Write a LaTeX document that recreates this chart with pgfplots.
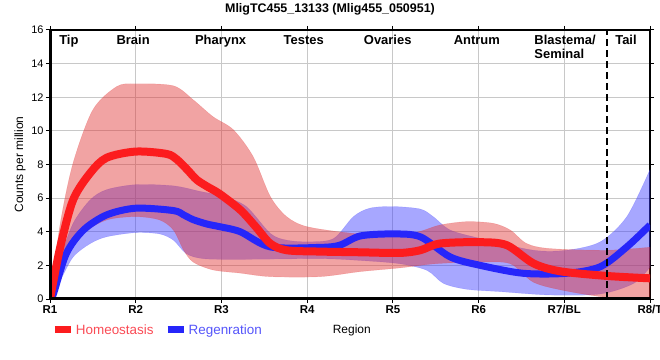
\documentclass[border=0pt]{standalone}
\usepackage{pgfplots}
\pgfplotsset{compat=1.18}
\usepgfplotslibrary{fillbetween}
\usepackage{fontspec}
\setmainfont{Liberation Sans}
\definecolor{hline}{RGB}{252,28,30}
\definecolor{rline}{RGB}{38,38,250}
\definecolor{hband}{RGB}{225,50,50}
\definecolor{rband}{RGB}{60,60,255}
\definecolor{htext}{RGB}{250,75,85}
\definecolor{rtext}{RGB}{85,85,250}
\definecolor{gridc}{RGB}{200,200,200}

\pgfplotstableread{
x y
1 0
1.12 3.1
1.27 5.9
1.47 7.5
1.66 8.4
2 8.77
2.36 8.63
2.48 8.3
2.6 7.7
2.71 7.1
2.83 6.7
2.98 6.25
3.22 5.3
3.4 4.3
3.57 3.3
3.76 2.9
4.15 2.82
4.6 2.78
5.08 2.74
5.32 2.9
5.55 3.3
6.02 3.38
6.33 3.2
6.64 2.12
6.95 1.65
7.5 1.37
8 1.23
}\hmean

\pgfplotstableread{
x y
1 0
1.12 4.5
1.27 8.1
1.5 11.25
1.78 12.64
2 12.8
2.44 12.68
2.67 11.85
2.9 10.85
3.14 10.06
3.37 8.47
3.57 6.1
3.76 4.9
4 4.3
4.54 3.9
5 3.8
5.3 4.0
5.55 4.4
5.86 4.6
6.17 4.5
6.37 4.1
6.56 3.3
6.83 3.0
7.5 2.9
8 3.08
}\hupper

\pgfplotstableread{
x y
1 0
1.2 2.5
1.39 3.9
1.66 4.7
2 4.9
2.28 4.7
2.44 4.1
2.56 2.9
2.67 2.2
2.9 1.73
3.22 1.54
3.57 1.33
4.15 1.33
4.62 1.63
5.08 1.85
5.5 2.1
6 2.2
6.37 2.1
6.64 1.0
7 0.5
7.5 0.1
8 0.05
}\hlower

\pgfplotstableread{
x y
1 0
1.04 0.3
1.19 2.7
1.39 4.1
1.66 5.0
2 5.4
2.44 5.26
2.56 5.0
2.67 4.72
2.83 4.46
2.98 4.3
3.22 4.0
3.57 3.1
4.15 3.07
4.38 3.2
4.62 3.75
5.0 3.87
5.32 3.7
5.67 2.5
6.02 2.0
6.52 1.53
7.03 1.53
7.42 1.92
7.73 3.1
8 4.4
}\rmean

\pgfplotstableread{
x y
1 0
1.12 2.4
1.27 4.5
1.47 5.9
1.66 6.5
2 6.8
2.44 6.73
2.75 6.4
3.02 6.1
3.29 5.5
3.57 3.9
3.76 3.5
4.03 3.4
4.31 3.6
4.54 4.9
4.73 5.4
5.0 5.5
5.32 5.35
5.47 4.9
5.67 4.1
6.02 3.6
6.64 2.9
7.03 2.9
7.42 3.4
7.73 4.9
8 7.7
}\rupper

\pgfplotstableread{
x y
1 0
1.12 1.1
1.27 2.5
1.47 3.3
1.66 3.7
2 3.95
2.28 3.87
2.44 3.5
2.59 2.7
2.79 2.4
3.22 2.36
4.15 2.4
4.6 2.3
5.08 2.1
5.4 1.7
5.59 0.93
5.86 0.58
6.25 0.44
6.83 0.24
7.42 0.3
7.81 0.93
8 1.9
}\rlower

\begin{document}
\begin{tikzpicture}
\begin{axis}[
  at={(0,0)}, anchor=south west,
  scale only axis, width=600bp, height=269bp,
  xmin=1, xmax=8, ymin=0, ymax=16,
  xtick={1,2,3,4,5,6,7,8},
  xticklabels={R1,R2,R3,R4,R5,R6,R7/BL,R8/T},
  ytick={0,2,4,6,8,10,12,14,16},
  /pgf/number format/assume math mode=true,
  tick align=outside,
  major tick length=4bp,
  tick style={black, line width=1bp},
  grid=major,
  grid style={gridc, line width=1bp},
  axis line style={black, line width=1.3bp},
  xticklabel style={font=\fontsize{11.5}{13}\selectfont\bfseries, yshift=1bp},
  yticklabel style={font=\fontsize{11}{13}\selectfont, xshift=1bp},
  xlabel={Region},
  xlabel style={at={(axis description cs:0.503,-0.115)}, anchor=center, font=\fontsize{12}{14}\selectfont},
  ylabel={Counts per million},
  ylabel style={at={(axis description cs:-0.05,0.5)}, anchor=center, font=\fontsize{12}{14}\selectfont},
  legend style={at={(axis description cs:-0.003,-0.115)}, anchor=west, draw=none, fill=none,
    legend columns=2, font=\fontsize{13.5}{15}\selectfont,
    /tikz/every even column/.append style={column sep=9bp},
    nodes={inner sep=1.5bp}},
  legend image code/.code={\draw[#1] (0bp,0bp) -- (16bp,0bp);},
]
% Regeneration band and line
\addplot[draw=none, smooth, name path=ru, forget plot] table[x=x,y=y] {\rupper};
\addplot[draw=none, smooth, name path=rl, forget plot] table[x=x,y=y] {\rlower};
\addplot[fill=rband, fill opacity=0.45, draw=rband, draw opacity=0.25, forget plot] fill between[of=ru and rl];
\addplot[rline, line width=7bp, smooth, forget plot] table[x=x,y=y] {\rmean};
% Homeostasis band and line
\addplot[draw=none, smooth, name path=hu, forget plot] table[x=x,y=y] {\hupper};
\addplot[draw=none, smooth, name path=hl, forget plot] table[x=x,y=y] {\hlower};
\addplot[fill=hband, fill opacity=0.45, draw=hband, draw opacity=0.25, forget plot] fill between[of=hu and hl];
\addplot[hline, line width=8bp, smooth, forget plot] table[x=x,y=y] {\hmean};
% dashed separator
\addplot[black, line width=2.5bp, dash pattern=on 7bp off 4bp, forget plot] coordinates {(7.5,0) (7.5,16)};
% thick left/bottom axes
\draw[black, line width=3bp] (rel axis cs:0,0) -- (rel axis cs:0,1);
\draw[black, line width=3bp] (rel axis cs:0,0) -- (rel axis cs:1,0);
% region labels
\begin{scope}[every node/.style={font=\fontsize{13}{15}\selectfont\bfseries, anchor=base, inner sep=0pt}]
\node at (axis cs:1.22,15.15) {Tip};
\node at (axis cs:1.97,15.15) {Brain};
\node at (axis cs:2.99,15.15) {Pharynx};
\node at (axis cs:3.96,15.15) {Testes};
\node at (axis cs:4.94,15.15) {Ovaries};
\node at (axis cs:5.98,15.15) {Antrum};
\node[anchor=base west] at (axis cs:6.65,15.15) {Blastema/};
\node[anchor=base west] at (axis cs:6.65,14.3) {Seminal};
\node at (axis cs:7.72,15.15) {Tail};
\end{scope}
\addlegendimage{hline, line width=7bp}
\addlegendentry{\textcolor{htext}{Homeostasis}}
\addlegendimage{rline, line width=7bp}
\addlegendentry{\textcolor{rtext}{Regenration}}
\end{axis}
\node[anchor=base, inner sep=0pt, font=\fontsize{12.5}{14}\selectfont\bfseries] at (280bp,286.3bp) {MligTC455\_13133 (Mlig455\_050951)};
\pgfresetboundingbox
\useasboundingbox (-50bp,-61bp) rectangle (610bp,299bp);
\end{tikzpicture}
\end{document}
